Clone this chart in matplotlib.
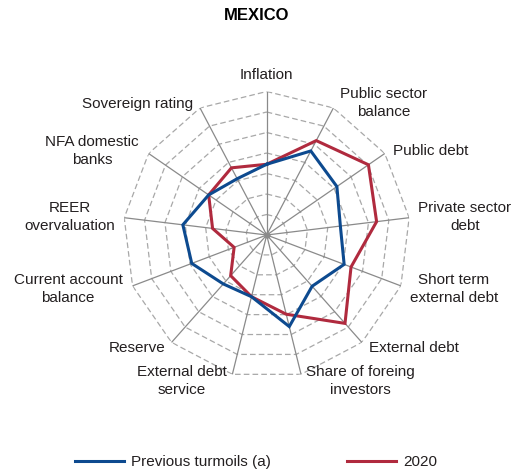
import numpy as np
import matplotlib
matplotlib.use("Agg")
import matplotlib.pyplot as plt
from matplotlib.lines import Line2D

plt.rcParams['font.family'] = ['Liberation Sans', 'DejaVu Sans']

title = "MEXICO"
categories = ["Inflation", "Public sector\nbalance", "Public debt", "Private sector\ndebt",
              "Short term\nexternal debt", "External debt", "Share of foreing\ninvestors",
              "External debt\nservice", "Reserve", "Current account\nbalance",
              "REER\novervaluation", "NFA domestic\nbanks", "Sovereign rating"]
previous = [3.45, 4.63, 4.16, 3.62, 4.04, 3.34, 4.6, 3.1, 3.19, 3.91, 4.12, 3.44, 3.1]
y2020 = [3.45, 5.2, 6.03, 5.4, 4.4, 5.76, 3.98, 3.1, 2.65, 1.7, 2.66, 3.44, 3.7]
series_names = ["Previous turmoils (a)", "2020"]
rmax = 7

# label centres in figure pixels (layout)
label_px = [(266, 75), (384, 103), (431, 151), (465, 217), (454, 289), (414, 348),
            (360, 381), (182, 381), (137, 348), (68, 289), (70, 217), (92, 151), (138, 104)]

W, H = 518, 473
fig = plt.figure(figsize=(W / 100, H / 100), dpi=100)
cx, cy, R = 266.7, 235.0, 143.5
ax = fig.add_axes([(cx - R) / W, (H - cy - R) / H, 2 * R / W, 2 * R / H], projection='polar')
ax.set_theta_offset(np.pi / 2)
ax.set_theta_direction(-1)
ax.set_ylim(0, rmax)
ax.set_xticks([])
ax.set_yticks([])
ax.grid(False)
ax.spines['polar'].set_visible(False)
ax.patch.set_alpha(0)

n = len(categories)
theta = np.arange(n) * 2 * np.pi / n
tc = np.append(theta, theta[0])

for r in range(1, rmax + 1):
    ax.plot(tc, [r] * (n + 1), color='#a8a8a8', lw=0.9, ls=(0, (4.5, 2.5)), zorder=1)
for t in theta:
    ax.plot([t, t], [0, rmax], color='#8a8a8a', lw=0.9, zorder=2)
ax.plot([0], [0], 'o', color='#8a8a8a', ms=3.5, zorder=2)

blue, red = '#0d4a8f', '#b02a3e'
ax.plot(tc, previous + [previous[0]], color=blue, lw=2.2, zorder=4, solid_joinstyle='miter')
ax.plot(tc, y2020 + [y2020[0]], color=red, lw=2.2, zorder=3, solid_joinstyle='miter')

for lab, (px, py) in zip(categories, label_px):
    fig.text(px / W, 1 - py / H, lab, ha='center', va='center', fontsize=11,
             color='#231f20', multialignment='center', linespacing=1.3)

fig.text(257 / W, 1 - 16 / H, title, ha='center', va='center', fontsize=12,
         fontweight='bold', color='black')

handles = [Line2D([], [], color=blue, lw=2.2), Line2D([], [], color=red, lw=2.2)]
fig.legend(handles, series_names, loc='center', bbox_to_anchor=(256 / W, 1 - 462 / H),
           ncol=2, frameon=False, fontsize=11, handlelength=3.2, handletextpad=0.45,
           columnspacing=5.0, labelcolor='#231f20')

fig.savefig('out.png', dpi=100)
